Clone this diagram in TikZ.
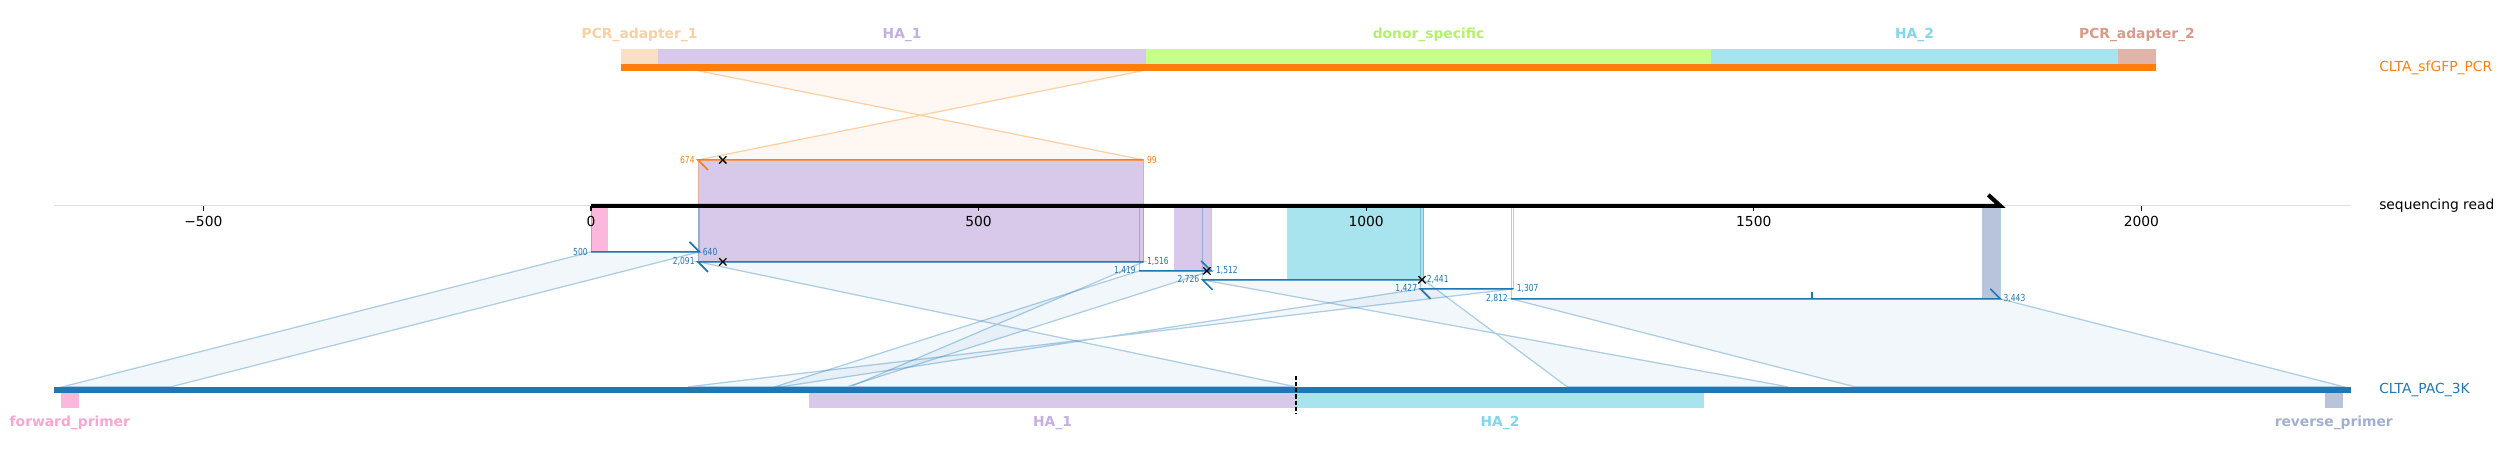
\documentclass[tikz,border=0pt]{standalone}
\usepackage{fontspec}
\setmainfont{DejaVu Sans}
\newfontfamily\posfont[FakeStretch=0.78]{DejaVu Sans}
\usetikzlibrary{shapes.misc}

\definecolor{tabblue}{HTML}{1F77B4}
\definecolor{taborange}{HTML}{FF7F0E}
\definecolor{adapterone}{HTML}{F9DFC3}
\definecolor{adapteronetxt}{HTML}{F8D0A2}
\definecolor{haone}{HTML}{D8C8EA}
\definecolor{haonetxt}{HTML}{C5AEE2}
\definecolor{donor}{HTML}{C8FE8C}
\definecolor{donortxt}{HTML}{B2F26A}
\definecolor{hatwo}{HTML}{A8E4EE}
\definecolor{hatwotxt}{HTML}{82D6E8}
\definecolor{adaptertwo}{HTML}{E0B4A8}
\definecolor{adaptertwotxt}{HTML}{D99A8A}
\definecolor{fwdprimer}{HTML}{FBB8DC}
\definecolor{fwdprimertxt}{HTML}{F7A6D1}
\definecolor{revprimer}{HTML}{B8C4DC}
\definecolor{revprimertxt}{HTML}{A2B0D0}

\begin{document}
\begin{tikzpicture}[x=0.007752in, y=-0.01in,
    trackname/.style={font=\fontsize{10}{12}\selectfont, anchor=west, inner sep=0pt},
    featname/.style={font=\fontsize{10}{12}\selectfont\bfseries, inner sep=0pt},
    posname/.style={font=\posfont\fontsize{7}{8}\selectfont, inner sep=0pt},
    alnshade/.style={fill=#1, fill opacity=0.06, draw=#1, draw opacity=0.35, line width=0.9pt},
    alnline/.style={draw=#1, line width=1.2pt},
    alnend/.style={draw=#1, draw opacity=0.35, line width=0.6pt},
    mismatch/.style={cross out, draw=black, line width=0.9pt, minimum size=0.06in, inner sep=0pt}]

        \def\yread{206}
        \def\ytop{70.7}
        \def\ybot{387}

        \useasboundingbox (-762.4,0) rectangle (2467.8,459);

        % alignment shading
        \draw[alnshade=taborange] (138,160) -- (713,160) -- (137.4,\ytop) -- (712.4,\ytop) -- cycle;
        \draw[alnshade=tabblue] (0,252) -- (140,252) -- (-541.7,\ybot) -- (-681.7,\ybot) -- cycle;
        \draw[alnshade=tabblue] (138,262) -- (713,262) -- (334.3,\ybot) -- (909.3,\ybot) -- cycle;
        \draw[alnshade=tabblue] (707,271) -- (800,271) -- (330.3,\ybot) -- (237.3,\ybot) -- cycle;
        \draw[alnshade=tabblue] (789,280) -- (1074,280) -- (1259.3,\ybot) -- (1544.3,\ybot) -- cycle;
        \draw[alnshade=tabblue] (1070,289) -- (1190,289) -- (125.3,\ybot) -- (245.3,\ybot) -- cycle;
        \draw[alnshade=tabblue] (1187,299) -- (1818,299) -- (2261.3,\ybot) -- (1630.3,\ybot) -- cycle;

        % features carried onto the read
        \fill[haone] (138,160) rectangle (713,\yread);
        \fill[haone] (138,\yread) rectangle (713,262);
        \fill[haone] (752,\yread) rectangle (800,271);
        \fill[hatwo] (897.5,\yread) rectangle (1074,280);
        \fill[fwdprimer] (0,\yread) rectangle (22,252);
        \fill[revprimer] (1794,\yread) rectangle (1817,299);

        \foreach \xa/\ya in {138/160, 713/160}
            \draw[alnend=taborange] (\xa,\yread) -- (\xa,\ya);
        \foreach \xa/\ya in {0/252, 140/252, 138/262, 713/262, 707/271, 800/271,
                             789/280, 1074/280, 1070/289, 1190/289, 1187/299, 1818/299}
            \draw[alnend=tabblue] (\xa,\yread) -- (\xa,\ya);

        % read axis
        \draw[black!13, line width=0.8pt] (-692.7,\yread) -- (2271,\yread);
        \foreach \t/\l in {-500/−500, 0/0, 500/500, 1000/1000, 1500/1500, 2000/2000} {
            \draw[line width=0.8pt] (\t,\yread) -- (\t,211);
            \node[font=\fontsize{10}{12}\selectfont, inner sep=0pt] (tick\t) at (\t,222) {\l};
        }
        \draw[line width=3pt] (0,\yread) -- (1818,\yread) -- ++(-15.5,-11);
        \node[trackname] (readname) at (2306.5,\yread) {sequencing read};

        % alignments
        \draw[alnline=taborange] (138+12.9,170) -- (138,160) -- (713,160);
        \draw[alnline=tabblue] (0,252) -- (140,252) -- ++(-12.9,-10);
        \draw[alnline=tabblue] (138+12.9,272) -- (138,262) -- (713,262);
        \draw[alnline=tabblue] (707,271) -- (800,271) -- ++(-12.9,-10);
        \draw[alnline=tabblue] (789+12.9,290) -- (789,280) -- (1074,280);
        \draw[alnline=tabblue] (1070+12.9,299) -- (1070,289) -- (1190,289);
        \draw[alnline=tabblue] (1187,299) -- (1818,299) -- ++(-12.9,-10);
        \draw[alnline=tabblue] (1575,299) -- (1575,292);

        \node[mismatch] (mis1) at (170,160) {};
        \node[mismatch] (mis2) at (170,262) {};
        \node[mismatch] (mis3) at (794.6,271) {};
        \node[mismatch] (mis4) at (1072,280) {};

        \node[posname, text=taborange, anchor=east] (p674) at (134,160) {674};
        \node[posname, text=taborange, anchor=west] (p99) at (717,160) {99};
        \node[posname, text=tabblue, anchor=east] (p500) at (-4,252) {500};
        \node[posname, text=tabblue, anchor=west] (p640) at (144,252) {640};
        \node[posname, text=tabblue, anchor=east] (p2091) at (134,262) {2,091};
        \node[posname, text=tabblue, anchor=west] (p1516) at (717,262) {1,516};
        \node[posname, text=tabblue, anchor=east] (p1419) at (703,271) {1,419};
        \node[posname, text=tabblue, anchor=west] (p1512) at (806,271) {1,512};
        \node[posname, text=tabblue, anchor=east] (p2726) at (785,280) {2,726};
        \node[posname, text=tabblue, anchor=west] (p2441) at (1078,280) {2,441};
        \node[posname, text=tabblue, anchor=east] (p1427) at (1066,289) {1,427};
        \node[posname, text=tabblue, anchor=west] (p1307) at (1194,289) {1,307};
        \node[posname, text=tabblue, anchor=east] (p2812) at (1183,299) {2,812};
        \node[posname, text=tabblue, anchor=west] (p3443) at (1822,299) {3,443};

        % donor track
        \fill[adapterone] (38.7,49) rectangle (86.5,64.5);
        \fill[haone] (86.5,49) rectangle (716,64.5);
        \fill[donor] (716,49) rectangle (1444.8,64.5);
        \fill[hatwo] (1444.8,49) rectangle (1969.8,64.5);
        \fill[adaptertwo] (1969.8,49) rectangle (2018.8,64.5);
        \fill[taborange] (38.7,64.5) rectangle (2018.8,70.7);
        \node[featname, text=adapteronetxt] (adapt1) at (62.6,35) {PCR\_adapter\_1};
        \node[featname, text=haonetxt] (haone) at (401.3,35) {HA\_1};
        \node[featname, text=donortxt] (donor) at (1080.4,35) {donor\_specific};
        \node[featname, text=hatwotxt] (hatwo) at (1707.3,35) {HA\_2};
        \node[featname, text=adaptertwotxt] (adapt2) at (1994.3,35) {PCR\_adapter\_2};
        \node[trackname, text=taborange] (donorname) at (2306.5,67.5) {CLTA\_sfGFP\_PCR};

        % target track
        \fill[tabblue] (-692.7,\ybot) rectangle (2271,393.7);
        \fill[fwdprimer] (-683.7,393.7) rectangle (-660.9,408.7);
        \fill[haone] (281.2,393.7) rectangle (909.5,408.7);
        \fill[hatwo] (909.5,393.7) rectangle (1435.8,408.7);
        \fill[revprimer] (2236.5,393.7) rectangle (2259.9,408.7);
        \draw[dash pattern=on 3pt off 1.5pt, line width=0.8pt] (909.5,376) -- (909.5,414);
        \node[featname, text=fwdprimertxt] (fwd) at (-672.3,423) {forward\_primer};
        \node[featname, text=haonetxt] (haonet) at (595.4,423) {HA\_1};
        \node[featname, text=hatwotxt] (hatwot) at (1172.7,423) {HA\_2};
        \node[featname, text=revprimertxt] (rev) at (2248.2,423) {reverse\_primer};
        \node[trackname, text=tabblue] (targetname) at (2306.5,390.5) {CLTA\_PAC\_3K};
    \end{tikzpicture}
\end{document}
